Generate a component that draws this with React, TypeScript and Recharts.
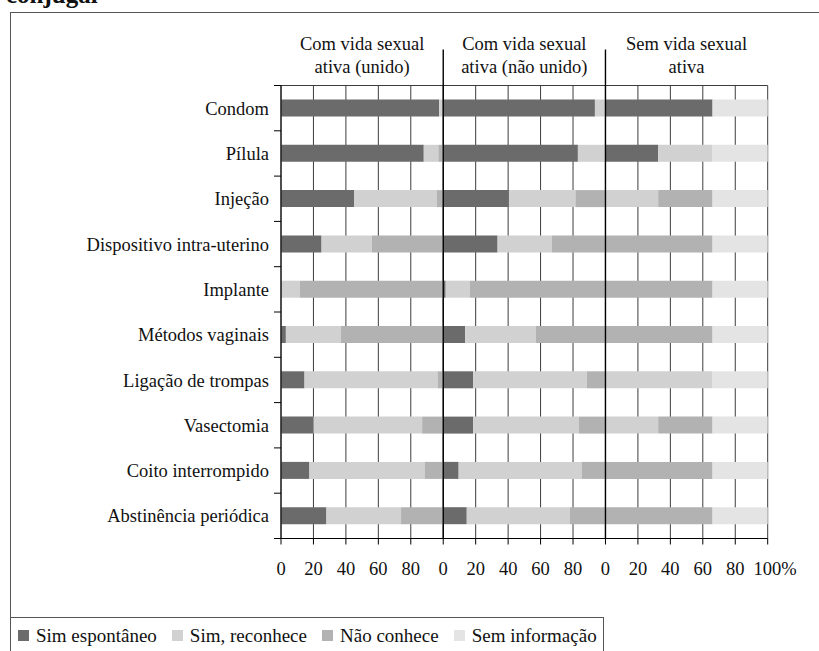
import React from 'react';
import { BarChart, Bar, XAxis, YAxis, CartesianGrid, ReferenceLine, Legend } from 'recharts';

const FONT = '"Liberation Serif", "Times New Roman", serif';
const FS = 18.5;

const categories = [
  'Condom',
  'Pílula',
  'Injeção',
  'Dispositivo intra-uterino',
  'Implante',
  'Métodos vaginais',
  'Ligação de trompas',
  'Vasectomia',
  'Coito interrompido',
  'Abstinência periódica',
];

const panelTitles = [
  ['Com vida sexual', 'ativa (unido)'],
  ['Com vida sexual', 'ativa (não unido)'],
  ['Sem vida sexual', 'ativa'],
];
const panelCenters = [50, 150, 250];
const panelDividers = [100, 200];

const seriesNames = ['Sim espontâneo', 'Sim, reconhece', 'Não conhece', 'Sem informação'];
const seriesColors = ['#6b6b6b', '#d1d1d1', '#b2b2b2', '#e4e4e4'];

// Com vida sexual ativa (unido)
const unidoEspontaneo = [97.5, 88, 45, 25, 0.5, 3, 14.5, 20, 17.5, 28];
const unidoReconhece = [1.5, 9, 51, 31, 11, 34, 82, 67, 71, 46];
const unidoNaoConhece = [1, 3, 4, 44, 88.5, 63, 3.5, 13, 11.5, 26];

// Com vida sexual ativa (não unido)
const naoUnidoEspontaneo = [93.5, 83, 40.5, 33.5, 1.5, 13.5, 18.5, 18.5, 9.5, 14.5];
const naoUnidoReconhece = [6.5, 17, 41, 33.5, 15, 43.5, 70, 65, 76, 63.5];
const naoUnidoNaoConhece = [0, 0, 18.5, 33, 83.5, 43, 11.5, 16.5, 14.5, 22];

// Sem vida sexual ativa
const semVidaEspontaneo = [66, 32.5, 0, 0, 0, 0, 0, 0, 0, 0];
const semVidaReconhece = [0, 33.5, 32.5, 0, 0, 0, 66, 32.5, 0, 0];
const semVidaNaoConhece = [0, 0, 33.5, 66, 66, 66, 0, 33.5, 66, 66];
const semVidaSemInfo = [34, 34, 34, 34, 34, 34, 34, 34, 34, 34];

const xTicks = [0, 20, 40, 60, 80, 100, 120, 140, 160, 180, 200, 220, 240, 260, 280, 300];

const rows = categories.map((categoria, i) => ({
  categoria,
  u1: unidoEspontaneo[i],
  u2: unidoReconhece[i],
  u3: unidoNaoConhece[i],
  n1: naoUnidoEspontaneo[i],
  n2: naoUnidoReconhece[i],
  n3: naoUnidoNaoConhece[i],
  s1: semVidaEspontaneo[i],
  s2: semVidaReconhece[i],
  s3: semVidaNaoConhece[i],
  s4: semVidaSemInfo[i],
}));

const CHART_W = 819;
const CHART_H = 651;
const MARGIN = { top: 85.5, right: 51.3, bottom: 82.5, left: 11 };
const Y_WIDTH = 270;
const X_HEIGHT = 30;
const PLOT_H = CHART_H - MARGIN.top - MARGIN.bottom - X_HEIGHT;

const YTick = (props: any) => {
  const { x, y, payload, index } = props;
  const half = payload && typeof payload.offset === 'number' && payload.offset > 0
    ? payload.offset
    : PLOT_H / categories.length / 2;
  return (
    <g>
      <line x1={x - 7} x2={x} y1={y - half} y2={y - half} stroke="#000" strokeWidth={1} />
      {index === categories.length - 1 && (
        <line x1={x - 7} x2={x} y1={y + half} y2={y + half} stroke="#000" strokeWidth={1} />
      )}
      <text x={x - 12} y={y} dy="0.355em" textAnchor="end" fontSize={FS} fontFamily={FONT} fill="#111">
        {payload.value}
      </text>
    </g>
  );
};

const XTick = (props: any) => {
  const { x, y, payload } = props;
  const v = payload.value as number;
  const isLast = v === xTicks[xTicks.length - 1];
  const label = isLast ? '100%' : String(v % 100);
  return (
    <text x={x} y={y} dy="0.71em" dx={isLast ? 7.5 : 0} textAnchor="middle" fontSize={FS} fontFamily={FONT} fill="#111">
      {label}
    </text>
  );
};

const HeaderLabel = (props: any) => {
  const vb = props.viewBox || {};
  const x = vb.x ?? 0;
  const y = vb.y ?? MARGIN.top;
  const lines: string[] = props.lines || ['', ''];
  return (
    <text x={x} y={y} textAnchor="middle" fontSize={FS} fontFamily={FONT} fill="#111">
      <tspan x={x} dy={-35.5}>{lines[0]}</tspan>
      <tspan x={x} dy={23}>{lines[1]}</tspan>
    </text>
  );
};

const DividerShape = (props: any) => {
  const { x1, x2, y1, y2 } = props;
  const top = Math.min(y1, y2);
  const bottom = Math.max(y1, y2);
  return <line x1={x1} x2={x2} y1={top - 36} y2={bottom} stroke="#000" strokeWidth={1.4} />;
};

const LegendContent = (props: any) => {
  const payload = (props.payload || [])
    .filter((p: any) => p.type !== 'none' && seriesNames.indexOf(p.value) >= 0)
    .slice()
    .sort((a: any, b: any) => seriesNames.indexOf(a.value) - seriesNames.indexOf(b.value));
  return (
    <div
      style={{
        display: 'flex',
        alignItems: 'center',
        height: '100%',
        paddingLeft: 8,
        paddingTop: 2,
        boxSizing: 'border-box',
        fontFamily: FONT,
        fontSize: 19,
        color: '#111',
        whiteSpace: 'nowrap',
      }}
    >
      {payload.map((p: any, i: number) => (
        <span
          key={p.value}
          style={{ display: 'flex', alignItems: 'center', marginRight: i === payload.length - 1 ? 0 : 15 }}
        >
          <span style={{ display: 'inline-block', width: 11, height: 11, background: p.color, marginRight: 7 }} />
          {p.value}
        </span>
      ))}
    </div>
  );
};

export default function App() {
  const panelKeys = [
    ['u1', 'u2', 'u3'],
    ['n1', 'n2', 'n3'],
    ['s1', 's2', 's3', 's4'],
  ];
  return (
    <div style={{ position: 'absolute', left: 0, top: 0, width: CHART_W, height: CHART_H, background: '#fff', overflow: 'hidden' }}>
      <div
        style={{
          position: 'absolute',
          left: 10,
          top: 12,
          right: 0,
          bottom: 0,
          borderLeft: '1px solid #555',
          borderTop: '1px solid #555',
        }}
      />
      <svg style={{ position: 'absolute', left: 0, top: 0 }} width={200} height={14}>
        <text x={6} y={3} fontSize={25} fontWeight="bold" fontFamily={FONT} fill="#111">conjugal</text>
      </svg>
      <div style={{ position: 'absolute', left: 0, top: 0 }}>
        <BarChart
          layout="vertical"
          width={CHART_W}
          height={CHART_H}
          data={rows}
          margin={MARGIN}
          barSize={17}
        >
          <CartesianGrid
            horizontal={true}
            vertical={true}
            horizontalCoordinatesGenerator={(p: any) => [p.offset.top]}
            stroke="#3c3c3c"
            strokeWidth={1}
          />
          <XAxis
            type="number"
            domain={[0, 300]}
            ticks={xTicks}
            interval={0}
            height={X_HEIGHT}
            tickSize={6}
            tickMargin={17}
            axisLine={{ stroke: '#000' }}
            tickLine={{ stroke: '#000' }}
            tick={<XTick />}
          />
          <YAxis
            type="category"
            dataKey="categoria"
            width={Y_WIDTH}
            interval={0}
            tickSize={0}
            tickMargin={0}
            tickLine={false}
            axisLine={{ stroke: '#000' }}
            tick={<YTick />}
          />
          {panelKeys.map((keys, p) =>
            keys.map((k, s) => {
              const showInLegend = p === 0 || (p === 2 && s === 3);
              return (
                <Bar
                  key={k}
                  dataKey={k}
                  stackId="stack"
                  fill={seriesColors[s]}
                  name={showInLegend ? seriesNames[s] : `${seriesNames[s]} (${p})`}
                  legendType={showInLegend ? 'square' : 'none'}
                  isAnimationActive={false}
                />
              );
            })
          )}
          {panelCenters.map((c, i) => (
            <ReferenceLine
              key={`h${c}`}
              x={c}
              stroke="#000"
              strokeOpacity={0}
              label={<HeaderLabel lines={panelTitles[i]} />}
            />
          ))}
          {panelDividers.map((d) => (
            <ReferenceLine key={d} x={d} stroke="#000" shape={<DividerShape />} />
          ))}
          <Legend
            layout="horizontal"
            verticalAlign="middle"
            align="center"
            content={<LegendContent />}
            wrapperStyle={{
              position: 'absolute',
              left: 10,
              top: 616.5,
              width: 594,
              height: 35,
              borderTop: '1px solid #555',
              borderRight: '1px solid #555',
              boxSizing: 'border-box',
            }}
          />
        </BarChart>
      </div>
    </div>
  );
}
